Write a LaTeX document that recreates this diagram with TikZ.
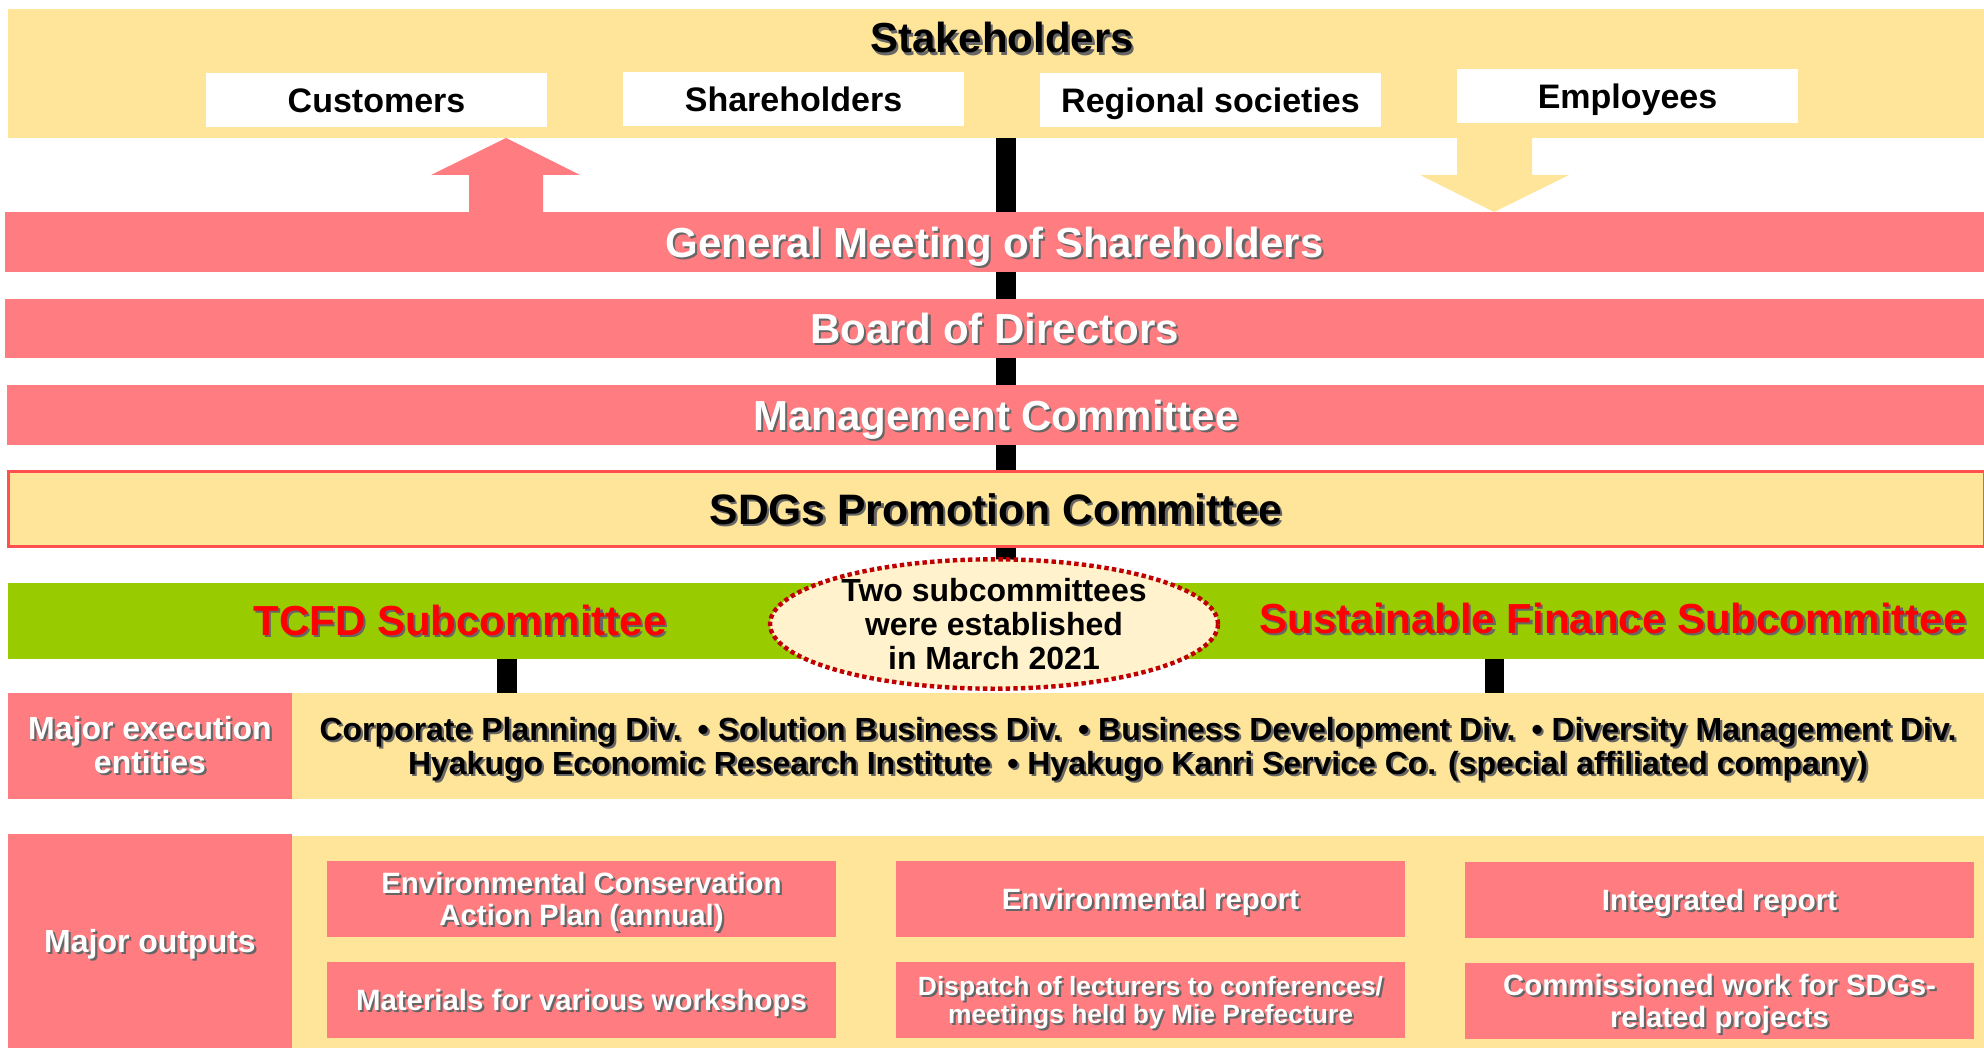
\documentclass[tikz,border=0pt]{standalone}
\usepackage{fontspec}
\setmainfont{Liberation Sans}
\usetikzlibrary{shapes.geometric}
\definecolor{sand}{HTML}{FFE599}
\definecolor{rose}{HTML}{FF7C80}
\definecolor{leaf}{HTML}{99CC00}
\definecolor{cream}{HTML}{FFF2CC}
\definecolor{scarlet}{HTML}{FF0000}
\definecolor{edgered}{HTML}{FF5050}
\definecolor{dotred}{HTML}{C00000}
\definecolor{shadowc}{gray}{0.40}
% text with a soft drop shadow
\newcommand{\shd}[1]{\leavevmode\rlap{\hspace{1.1pt}\raisebox{-1.1pt}{\textcolor{shadowc}{#1}}}#1}
\newcommand{\fs}[2]{\fontsize{#1}{#2}\selectfont}
\begin{document}
\begin{tikzpicture}[x=0.5pt,y=-0.5pt,
  blk/.style={draw=none, inner sep=0pt, outer sep=0pt},
  oneline/.style={text height=#1, text depth=0pt},
  band/.style={blk, oneline=15pt, fill=rose, text=white, font=\bfseries\fs{21pt}{25pt}, minimum width=989.5pt, minimum height=#1},
  whitebox/.style={blk, oneline=12.2pt, fill=white, minimum width=170.5pt, minimum height=27pt, font=\bfseries\fs{17pt}{20pt}},
  outbox/.style={blk, fill=rose, text=white, minimum width=254.5pt, minimum height=38pt, align=center, font=\bfseries\fs{14.7pt}{16pt}},
  twoline/.style={text depth=0pt},
  sidebox/.style={blk, fill=rose, text=white, minimum width=142pt, align=center, font=\bfseries\fs{16pt}{17pt}},
  link/.style={line width=9.8pt, black},
]
\useasboundingbox (0,0) rectangle (1984,1048);

% central spine behind the committee bands
\coordinate (spinetop) at (1006,138);
\coordinate (spinebot) at (1006,600);
\draw[link] (spinetop) -- (spinebot);

% stakeholders
\node[blk, fill=sand, minimum width=988pt, minimum height=64.5pt] (stk) at (996,73.5) {};
\node[blk, oneline=15pt, font=\bfseries\fs{21pt}{25pt}] (stktitle) at (1002,38) {\shd{Stakeholders}};
\node[whitebox] (cust) at (376.5,100) {Customers};
\node[whitebox] (share) at (793.5,99.5) {Shareholders};
\node[whitebox] (region) at (1210.5,100) {Regional societies};
\node[whitebox] (empl) at (1627.5,96.5) {Employees};

% governance bands
\node[band=30pt] (gm) at (994.5,242) {\shd{General Meeting of Shareholders}};
\node[band=29.5pt] (bod) at (994.5,328.5) {\shd{Board of Directors}};
\node[band=30pt] (mgmt) at (996,415) {\shd{Management Committee}};
\node[blk, oneline=15.2pt, fill=sand, draw=edgered, line width=1.5pt, minimum width=988pt, minimum height=37.5pt, font=\bfseries\fs{21.3pt}{25pt}] (sdgs) at (996,509) {\shd{SDGs Promotion Committee}};

% flows between stakeholders and the general meeting
\fill[rose] (469,212) -- (469,175) -- (431,175) -- (506,138) -- (580,175) -- (543,175) -- (543,212) -- cycle;
\fill[sand] (1457,138) -- (1457,175) -- (1420,175) -- (1494,212) -- (1569,175) -- (1532,175) -- (1532,138) -- cycle;

% subcommittees
\node[blk, fill=leaf, minimum width=988pt, minimum height=38pt] (green) at (996,621) {};
\node[blk, oneline=15pt, text=scarlet, font=\bfseries\fs{21pt}{25pt}] (tcfd) at (460,620) {\shd{TCFD Subcommittee}};
\node[blk, oneline=15pt, text=scarlet, font=\bfseries\fs{21pt}{25pt}] (sfin) at (1613,618) {\shd{Sustainable Finance Subcommittee}};
\node[ellipse, draw=dotred, fill=cream, line width=2.2pt, dash pattern=on 2.2pt off 1.6pt, inner sep=0pt, minimum width=224pt, minimum height=57pt, align=center, font=\bfseries\fs{16pt}{17pt}] (note) at (994,624) {Two subcommittees\\were established\\in March 2021};

% major execution entities
\node[sidebox, minimum height=53pt] (exl) at (150,746) {\shd{Major execution}\\\shd{entities}};
\node[blk, twoline, fill=sand, minimum width=846pt, minimum height=53pt, align=center, font=\bfseries\fs{16pt}{17pt}] (exr) at (1138,746)
  {\shd{Corporate Planning Div.\hspace{0.5em}• Solution Business Div.\hspace{0.5em}• Business Development Div.\hspace{0.5em}• Diversity Management Div.}\\
   \shd{Hyakugo Economic Research Institute\hspace{0.5em}• Hyakugo Kanri Service Co. (special affiliated company)}};

\coordinate (colA) at (507,659);
\coordinate (colB) at (1494.5,659);
\draw[link] (colA) -- (colA |- exr.north);
\draw[link] (colB) -- (colB |- exr.north);

% major outputs
\node[blk, fill=sand, minimum width=846pt, minimum height=106pt] (outr) at (1138,942) {};
\node[sidebox, oneline=11.5pt, minimum height=107pt] (outl) at (150,941) {\shd{Major outputs}};
\node[outbox, twoline] (o1) at (581.5,899) {\shd{Environmental Conservation}\\\shd{Action Plan (annual)}};
\node[outbox, oneline=10.5pt] (o2) at (1150.5,899) {\shd{Environmental report}};
\node[outbox, oneline=10.5pt] (o3) at (1719.5,900) {\shd{Integrated report}};
\node[outbox, oneline=10.5pt] (o4) at (581.5,1000) {\shd{Materials for various workshops}};
\node[outbox, twoline, font=\bfseries\fs{13.2pt}{14pt}] (o5) at (1150.5,1000) {\shd{Dispatch of lecturers to conferences/}\\\shd{meetings held by Mie Prefecture}};
\node[outbox, twoline] (o6) at (1719.5,1001) {\shd{Commissioned work for SDGs-}\\\shd{related projects}};
\end{tikzpicture}
\end{document}
